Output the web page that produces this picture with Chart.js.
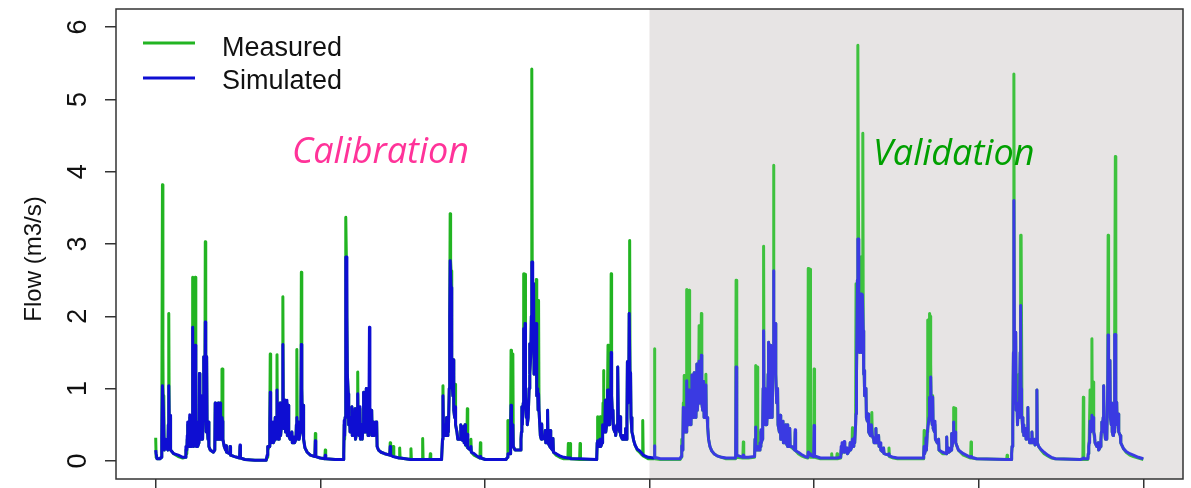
<!DOCTYPE html>
<html>
<head>
<meta charset="utf-8">
<title>Flow calibration / validation</title>
<script src="https://cdn.jsdelivr.net/npm/chart.js@4.4.1/dist/chart.umd.min.js"></script>
<style>
  html, body { margin: 0; padding: 0; background: #fff; }
  canvas { display: block; }
</style>
</head>
<body>
<canvas id="flowChart" width="1191" height="488"></canvas>
<script>
// Day index from start of record (6 years; first 3 = calibration)
const days = [
  0, 1, 3, 10, 12, 13, 14, 15, 16, 17,
  18, 19, 20, 21, 22, 27, 28, 29, 30, 31,
  32, 33, 40, 50, 60, 66, 67, 69, 70, 71,
  72, 74, 75, 76, 78, 79, 81, 82, 83, 84,
  86, 87, 88, 89, 90, 92, 93, 96, 97, 98,
  100, 101, 102, 104, 105, 106, 107, 109, 110, 111,
  112, 113, 114, 116, 117, 118, 121, 128, 131, 132,
  133, 135, 136, 137, 138, 139, 140, 142, 143, 144,
  146, 147, 148, 149, 152, 155, 156, 157, 164, 165,
  166, 175, 186, 187, 188, 198, 220, 245,
  247, 248, 249, 252, 253, 254, 255, 256, 259, 260,
  261, 264, 265, 266, 268, 269, 270, 272, 273, 274,
  276, 277, 279, 280, 281, 282, 283, 284, 286, 287,
  288, 290, 291, 292, 293, 294, 295, 298, 302, 303,
  306, 307, 308, 311, 312, 313, 314, 316, 317, 318,
  321, 322, 323, 324, 325, 326, 327, 328, 331, 336,
  343, 353, 354, 355, 365, 375, 376, 377, 398, 416,
  417, 418, 419, 420, 421, 422, 423, 424, 425, 427,
  428, 430, 431, 434, 435, 436, 439, 440, 441, 442,
  443, 446, 447, 448, 449, 451, 453, 454, 456, 457,
  458, 460, 461, 462, 464, 465, 466, 467, 468, 470,
  471, 473, 474, 475, 477, 479, 480, 482, 483, 484,
  487, 488, 489, 490, 491, 494, 500, 508, 519, 520,
  521, 526, 527, 528, 540, 541, 542, 565, 566, 567,
  591, 592, 593, 608, 609, 610, 633,
  634, 636, 637, 638, 640, 641, 642, 644, 645, 646,
  648, 649, 651, 652, 653, 654, 655, 656, 657, 659,
  660, 661, 663, 664, 665, 668, 670, 675, 676, 677,
  682, 683, 684, 686, 687, 690, 691, 692, 698, 699,
  700, 706, 712, 719, 720, 721, 731, 777,
  780, 781, 782, 786, 787, 788, 789, 791, 792, 793,
  797, 803, 808, 810, 811, 812, 813, 815, 816, 817,
  818, 819, 820, 822, 823, 824, 826, 828, 829, 830,
  832, 833, 834, 835, 836, 837, 838, 839, 841, 843,
  844, 845, 847, 848, 849, 850, 852, 853, 855, 856,
  857, 860, 863, 864, 865, 868, 869, 870, 874, 875,
  876, 880, 881, 882, 888, 896, 905, 914, 915, 916,
  918, 919, 920, 940, 941, 942, 977,
  978, 979, 980, 981, 984, 985, 986, 987, 990, 991,
  992, 993, 994, 996, 997, 998, 1000, 1001, 1002, 1003,
  1004, 1006, 1007, 1009, 1010, 1011, 1013, 1014, 1015, 1018,
  1019, 1020, 1023, 1024, 1025, 1026, 1029, 1030, 1031, 1035,
  1036, 1037, 1041, 1042, 1043, 1045, 1046, 1047, 1049, 1050,
  1051, 1052, 1053, 1054, 1056, 1058, 1060, 1063, 1068, 1073,
  1079, 1080, 1081, 1092,
  1105, 1106, 1107, 1119, 1163, 1165, 1166, 1167, 1168, 1169,
  1170, 1171, 1172, 1173, 1175, 1176, 1177, 1178, 1179, 1181,
  1182, 1183, 1184, 1186, 1187, 1188, 1189, 1190, 1192, 1193,
  1194, 1195, 1197, 1198, 1199, 1200, 1201, 1203, 1204, 1205,
  1206, 1208, 1209, 1210, 1211, 1213, 1214, 1215, 1216, 1218,
  1219, 1220, 1221, 1223, 1224, 1226, 1229, 1233, 1238, 1245,
  1255, 1265, 1286, 1287, 1288, 1289, 1302, 1303, 1304, 1314,
  1328, 1329, 1330, 1331, 1333, 1334, 1335, 1338, 1340, 1341,
  1342, 1343, 1345, 1346, 1347, 1348, 1349, 1351, 1352, 1354,
  1355, 1357, 1358, 1359, 1360, 1362, 1363, 1364, 1366, 1367,
  1369, 1370, 1371, 1373, 1374, 1375, 1377, 1379, 1380, 1383,
  1385, 1386, 1390, 1391, 1392, 1396, 1397, 1398, 1400, 1401,
  1402, 1405, 1406, 1407, 1411, 1417, 1418, 1419, 1425, 1432,
  1440, 1446, 1447, 1448, 1450, 1451, 1452, 1459, 1460, 1461,
  1474, 1498, 1499, 1500, 1510, 1511, 1512,
  1519, 1520, 1521, 1522, 1523, 1526, 1527, 1528, 1533, 1534,
  1539, 1540, 1541, 1544, 1545, 1546, 1548, 1549, 1550, 1552,
  1553, 1554, 1556, 1557, 1558, 1559, 1560, 1561, 1562, 1563,
  1564, 1565, 1566, 1567, 1568, 1569, 1570, 1571, 1572, 1574,
  1575, 1576, 1578, 1580, 1581, 1585, 1587, 1588, 1589, 1592,
  1593, 1596, 1597, 1598, 1602, 1603, 1604, 1607, 1608, 1613,
  1614, 1615, 1625, 1626, 1627, 1636, 1645, 1700,
  1702, 1703, 1704, 1705, 1707, 1708, 1709, 1711, 1712, 1713,
  1715, 1716, 1717, 1718, 1719, 1720, 1722, 1723, 1724, 1727,
  1728, 1729, 1733, 1736, 1737, 1745, 1753, 1754, 1755, 1758,
  1759, 1764, 1765, 1766, 1768, 1769, 1770, 1772, 1773, 1774,
  1780, 1791, 1807, 1808, 1809, 1820, 1887, 1888, 1889,
  1897, 1898, 1899, 1900, 1901, 1902, 1903, 1904, 1905, 1906,
  1907, 1908, 1910, 1911, 1913, 1914, 1915, 1917, 1918, 1919,
  1920, 1921, 1923, 1924, 1925, 1928, 1929, 1930, 1933, 1934,
  1935, 1937, 1938, 1942, 1943, 1944, 1948, 1949, 1950, 1953,
  1954, 1955, 1958, 1963, 1970, 1978, 1986, 1995, 2050,
  2056, 2057, 2058, 2067, 2068, 2069, 2070, 2071, 2072, 2073,
  2075, 2076, 2077, 2079, 2080, 2082, 2083, 2087, 2090, 2091,
  2095, 2096, 2097, 2098, 2099, 2101, 2102, 2103, 2105, 2106,
  2108, 2109, 2111, 2112, 2113, 2115, 2116, 2117, 2119, 2120,
  2121, 2123, 2124, 2125, 2126, 2127, 2128, 2129, 2131, 2132,
  2134, 2135, 2136, 2139, 2140, 2146, 2152, 2160, 2168, 2179,
  2190
];

// Measured flow (m3/s)
const measured = [
  0.32, 0.05, 0.03, 0.03, 0.05, 0.1, 0.3, 3.82, 1.57, 0.3,
  0.9, 0.15, 0.15, 0.3, 0.2, 0.15, 0.5, 2.04, 0.63, 0.3,
  0.6, 0.15, 0.1, 0.06, 0.04, 0.05, 0.15, 0.1, 0.3, 0.5,
  0.2, 0.3, 0.6, 0.2, 0.3, 0.2, 0.3, 2.54, 0.5, 0.2,
  0.3, 0.5, 2.54, 0.3, 0.2, 0.5, 0.2, 0.25, 1.21, 0.3,
  0.3, 0.85, 0.3, 0.3, 0.6, 1.44, 0.6, 0.8, 3.03, 0.7,
  0.4, 1.44, 0.5, 0.3, 0.54, 0.2, 0.15, 0.12, 0.15, 0.8,
  0.3, 0.3, 0.78, 0.3, 0.3, 0.8, 0.3, 0.3, 0.8, 0.3,
  0.4, 1.27, 1.27, 0.3, 0.2, 0.15, 0.21, 0.12, 0.1, 0.2,
  0.08, 0.06, 0.04, 0.2, 0.04, 0.02, 0.01, 0.01,
  0.05, 0.2, 0.15, 0.2, 0.5, 1.48, 0.4, 0.25, 0.3, 0.5,
  0.25, 0.3, 0.6, 0.3, 0.4, 1.47, 0.4, 0.3, 0.5, 0.3,
  0.8, 0.35, 0.5, 0.6, 0.5, 2.27, 0.7, 0.45, 0.5, 0.84,
  0.4, 0.5, 0.8, 0.35, 0.4, 0.77, 0.35, 0.3, 0.4, 0.25,
  0.25, 0.3, 0.25, 0.3, 0.5, 1.54, 0.35, 0.3, 0.5, 0.3,
  0.4, 0.8, 2.61, 1.0, 0.6, 0.4, 0.77, 0.3, 0.18, 0.12,
  0.08, 0.06, 0.38, 0.06, 0.04, 0.03, 0.15, 0.03, 0.02, 0.02,
  0.1, 0.5, 0.3, 0.6, 1.5, 3.37, 2.72, 2.72, 1.2, 0.93,
  0.5, 0.6, 0.4, 0.5, 0.75, 0.35, 0.4, 0.6, 0.35, 0.72,
  0.3, 0.4, 0.7, 1.23, 0.4, 0.35, 0.72, 0.3, 0.35, 0.5,
  0.3, 0.5, 0.95, 0.4, 0.45, 0.7, 0.4, 1.0, 0.4, 0.5,
  0.35, 0.6, 0.6, 0.4, 0.5, 0.7, 0.35, 0.5, 0.54, 0.35,
  0.45, 0.54, 0.35, 0.54, 0.2, 0.15, 0.12, 0.1, 0.08, 0.25,
  0.08, 0.07, 0.2, 0.06, 0.04, 0.18, 0.04, 0.02, 0.17, 0.02,
  0.02, 0.31, 0.02, 0.02, 0.1, 0.02, 0.02,
  0.03, 0.3, 1.04, 0.5, 0.4, 0.5, 0.35, 0.4, 0.6, 0.35,
  0.5, 0.4, 1.0, 2.0, 3.42, 2.77, 2.63, 2.63, 1.2, 0.9,
  1.4, 0.7, 0.6, 1.06, 0.5, 0.4, 0.3, 0.3, 0.5, 0.3,
  0.28, 0.48, 0.25, 0.5, 0.22, 0.2, 0.72, 0.18, 0.15, 0.3,
  0.12, 0.08, 0.06, 0.04, 0.25, 0.04, 0.02, 0.02,
  0.05, 0.56, 0.1, 0.1, 0.5, 1.53, 0.4, 0.6, 1.48, 0.2,
  0.15, 0.15, 0.15, 0.3, 0.4, 0.75, 0.5, 0.8, 2.59, 1.2,
  1.5, 2.58, 0.9, 0.6, 0.8, 0.5, 0.6, 1.0, 1.62, 1.2,
  1.5, 2.0, 5.42, 2.53, 2.53, 1.8, 2.45, 1.2, 1.2, 1.5,
  2.51, 0.9, 1.0, 0.7, 2.22, 0.7, 0.7, 0.35, 0.3, 0.51,
  0.3, 0.32, 0.3, 0.42, 0.25, 0.25, 0.7, 0.25, 0.2, 0.42,
  0.18, 0.15, 0.31, 0.12, 0.08, 0.05, 0.03, 0.03, 0.24, 0.03,
  0.03, 0.24, 0.03, 0.02, 0.24, 0.02, 0.02,
  0.03, 0.25, 0.61, 0.2, 0.2, 0.5, 0.61, 0.2, 0.25, 0.5,
  0.8, 1.25, 0.4, 0.5, 0.84, 0.4, 0.5, 0.7, 1.0, 1.6,
  0.5, 0.96, 0.5, 0.8, 2.59, 0.9, 0.6, 0.7, 0.45, 0.4,
  0.47, 0.35, 0.5, 1.0, 1.3, 0.5, 0.4, 0.61, 0.35, 0.3,
  0.35, 0.3, 0.3, 0.45, 0.3, 0.6, 1.37, 0.8, 1.0, 2.04,
  3.05, 1.0, 1.22, 0.6, 0.4, 0.35, 0.28, 0.22, 0.15, 0.12,
  0.08, 0.56, 0.07, 0.03,
  0.03, 1.55, 0.03, 0.02, 0.02, 0.05, 0.2, 0.3, 0.15, 0.3,
  0.8, 0.4, 1.18, 0.4, 0.5, 0.4, 1.1, 2.37, 0.6, 0.5,
  0.98, 2.36, 0.6, 0.7, 0.5, 0.8, 1.19, 0.6, 0.7, 0.6,
  1.22, 0.7, 0.9, 0.6, 0.9, 1.34, 0.7, 0.9, 1.0, 1.87,
  0.8, 1.0, 1.2, 2.04, 0.8, 0.7, 0.9, 1.1, 0.6, 0.7,
  0.9, 1.2, 0.6, 0.6, 0.47, 0.3, 0.2, 0.14, 0.1, 0.07,
  0.05, 0.03, 0.03, 2.5, 2.5, 0.05, 0.04, 0.26, 0.04, 0.04,
  0.05, 0.3, 1.32, 0.2, 0.15, 1.3, 0.15, 0.15, 0.25, 0.2,
  0.4, 0.25, 0.3, 0.5, 1.0, 2.97, 0.8, 1.0, 0.5, 0.6,
  0.5, 0.8, 1.2, 1.64, 0.6, 1.0, 1.6, 0.7, 1.5, 0.6,
  1.5, 4.09, 1.5, 1.2, 1.9, 1.2, 0.8, 1.0, 0.5, 0.4,
  0.63, 0.3, 0.3, 0.55, 0.25, 0.25, 0.5, 0.25, 0.22, 0.5,
  0.2, 0.2, 0.45, 0.2, 0.18, 0.15, 0.4, 0.14, 0.1, 0.07,
  0.05, 0.04, 2.66, 0.1, 0.1, 2.65, 0.05, 0.05, 1.27, 0.05,
  0.03, 0.03, 0.1, 0.03, 0.03, 0.1, 0.03,
  0.04, 0.15, 0.1, 0.2, 0.12, 0.15, 0.25, 0.12, 0.15, 0.1,
  0.15, 0.25, 0.15, 0.2, 0.46, 0.2, 0.2, 0.3, 0.25, 0.5,
  2.45, 1.2, 2.5, 5.75, 3.74, 3.74, 2.0, 1.5, 2.0, 2.82,
  2.82, 1.5, 1.8, 2.3, 4.53, 1.8, 1.2, 1.25, 0.9, 0.9,
  1.0, 0.6, 0.55, 0.65, 0.4, 0.35, 0.5, 0.67, 0.35, 0.3,
  0.25, 0.25, 0.45, 0.25, 0.25, 0.35, 0.2, 0.2, 0.15, 0.12,
  0.18, 0.1, 0.08, 0.18, 0.06, 0.04, 0.03, 0.03,
  0.03, 0.1, 0.42, 0.1, 0.15, 0.3, 0.15, 0.4, 1.95, 0.5,
  1.2, 2.04, 2.0, 1.6, 1.34, 0.6, 0.5, 0.9, 0.45, 0.4,
  0.5, 0.3, 0.25, 0.3, 0.15, 0.1, 0.1, 0.33, 0.12, 0.17,
  0.12, 0.15, 0.38, 0.2, 0.3, 0.74, 0.3, 0.3, 0.73, 0.25,
  0.15, 0.08, 0.04, 0.26, 0.04, 0.03, 0.02, 0.08, 0.02,
  0.02, 0.1, 0.2, 0.3, 0.5, 1.5, 5.35, 1.78, 0.8, 1.0,
  1.78, 0.7, 0.8, 0.5, 0.8, 1.2, 0.6, 1.5, 3.12, 3.12,
  3.12, 0.6, 0.4, 0.5, 0.35, 0.35, 0.45, 0.3, 0.4, 0.74,
  0.3, 0.3, 0.25, 0.25, 0.4, 0.25, 0.25, 0.3, 0.22, 0.25,
  0.98, 0.25, 0.2, 0.15, 0.1, 0.07, 0.04, 0.03, 0.02,
  0.02, 0.88, 0.02, 0.02, 0.1, 0.2, 0.3, 0.3, 0.98, 0.4,
  0.6, 1.69, 0.5, 1.09, 0.4, 0.3, 0.25, 0.2, 0.25, 0.15,
  0.2, 0.3, 0.4, 0.54, 0.4, 0.6, 1.04, 0.5, 0.5, 0.3,
  0.45, 0.3, 1.0, 3.12, 1.0, 0.9, 1.39, 0.6, 0.5, 0.8,
  0.4, 0.35, 0.45, 0.4, 0.6, 1.75, 4.21, 0.8, 0.81, 0.5,
  0.5, 0.65, 0.4, 0.35, 0.25, 0.17, 0.12, 0.08, 0.06, 0.04,
  0.02
];

// Simulated flow (m3/s)
const simulated = [
  0.15, 0.1, 0.03, 0.03, 0.05, 0.1, 0.3, 1.04, 1.04, 0.74,
  0.74, 0.15, 0.15, 0.3, 0.2, 0.15, 0.5, 1.04, 0.63, 0.3,
  0.63, 0.15, 0.1, 0.08, 0.05, 0.05, 0.2, 0.15, 0.35, 0.54,
  0.2, 0.3, 0.64, 0.2, 0.3, 0.2, 0.3, 1.85, 0.5, 0.2,
  0.3, 0.5, 1.6, 0.3, 0.2, 0.54, 0.2, 0.25, 1.21, 0.3,
  0.3, 0.9, 0.3, 0.3, 0.6, 1.44, 0.6, 0.8, 1.92, 0.7,
  0.4, 1.44, 0.5, 0.3, 0.54, 0.2, 0.15, 0.12, 0.15, 0.8,
  0.3, 0.3, 0.78, 0.3, 0.3, 0.8, 0.3, 0.3, 0.8, 0.3,
  0.4, 0.6, 0.55, 0.3, 0.2, 0.15, 0.21, 0.12, 0.1, 0.2,
  0.08, 0.06, 0.04, 0.22, 0.04, 0.02, 0.01, 0.01,
  0.08, 0.2, 0.2, 0.2, 0.5, 0.95, 0.4, 0.25, 0.3, 0.54,
  0.25, 0.3, 0.6, 0.3, 0.4, 0.98, 0.4, 0.3, 0.5, 0.3,
  0.8, 0.35, 0.5, 0.6, 0.5, 1.61, 0.7, 0.45, 0.5, 0.84,
  0.4, 0.5, 0.84, 0.35, 0.4, 0.77, 0.35, 0.3, 0.4, 0.25,
  0.25, 0.33, 0.25, 0.3, 0.5, 0.6, 0.35, 0.3, 0.54, 0.3,
  0.4, 0.8, 1.61, 1.0, 0.6, 0.4, 0.77, 0.3, 0.18, 0.12,
  0.08, 0.06, 0.28, 0.06, 0.04, 0.03, 0.08, 0.03, 0.02, 0.02,
  0.1, 0.56, 0.35, 0.6, 1.5, 2.82, 2.82, 2.0, 1.2, 0.93,
  0.5, 0.6, 0.4, 0.5, 0.75, 0.35, 0.4, 0.6, 0.35, 0.72,
  0.3, 0.4, 0.7, 0.93, 0.4, 0.35, 0.75, 0.3, 0.35, 0.5,
  0.3, 0.5, 0.95, 0.4, 0.45, 0.7, 0.4, 1.0, 0.4, 0.5,
  0.35, 0.8, 1.85, 0.4, 0.5, 0.7, 0.35, 0.5, 0.54, 0.35,
  0.45, 0.54, 0.35, 0.54, 0.2, 0.15, 0.12, 0.1, 0.08, 0.2,
  0.08, 0.06, 0.06, 0.06, 0.04, 0.04, 0.04, 0.02, 0.02, 0.02,
  0.02, 0.02, 0.02, 0.02, 0.02, 0.02, 0.02,
  0.03, 0.3, 0.9, 0.5, 0.4, 0.5, 0.35, 0.4, 0.6, 0.35,
  0.5, 0.4, 1.0, 2.0, 2.77, 2.77, 2.4, 1.99, 1.2, 0.9,
  1.4, 0.7, 0.6, 0.75, 0.5, 0.4, 0.3, 0.3, 0.5, 0.3,
  0.28, 0.48, 0.25, 0.5, 0.22, 0.22, 0.37, 0.18, 0.15, 0.2,
  0.12, 0.1, 0.07, 0.04, 0.06, 0.04, 0.02, 0.02,
  0.05, 0.1, 0.1, 0.1, 0.5, 0.77, 0.4, 0.3, 0.5, 0.2,
  0.15, 0.15, 0.15, 0.3, 0.4, 0.75, 0.5, 0.8, 1.83, 1.2,
  1.5, 1.9, 0.9, 0.6, 0.8, 0.5, 0.6, 1.0, 1.62, 1.2,
  1.5, 2.0, 2.75, 2.75, 2.45, 1.8, 2.45, 1.2, 1.2, 1.5,
  1.9, 0.9, 1.0, 0.7, 0.93, 0.7, 0.7, 0.35, 0.3, 0.51,
  0.3, 0.32, 0.3, 0.42, 0.25, 0.25, 0.7, 0.25, 0.2, 0.42,
  0.18, 0.15, 0.31, 0.12, 0.1, 0.07, 0.05, 0.04, 0.04, 0.04,
  0.04, 0.04, 0.03, 0.03, 0.03, 0.03, 0.02,
  0.05, 0.25, 0.28, 0.2, 0.2, 0.3, 0.3, 0.2, 0.25, 0.5,
  0.47, 0.47, 0.4, 0.5, 0.84, 0.4, 0.5, 0.7, 0.98, 0.98,
  0.5, 0.96, 0.5, 0.8, 1.5, 0.9, 0.6, 0.7, 0.45, 0.4,
  0.47, 0.35, 0.5, 1.0, 1.3, 0.5, 0.4, 0.61, 0.35, 0.3,
  0.35, 0.3, 0.3, 0.45, 0.3, 0.6, 1.37, 0.8, 1.0, 2.04,
  2.04, 1.0, 1.22, 0.6, 0.4, 0.35, 0.28, 0.22, 0.16, 0.14,
  0.1, 0.1, 0.08, 0.05,
  0.04, 0.21, 0.05, 0.03, 0.03, 0.06, 0.15, 0.21, 0.15, 0.3,
  0.74, 0.4, 0.6, 0.4, 0.5, 0.4, 1.11, 1.11, 0.6, 0.5,
  0.98, 0.98, 0.6, 0.7, 0.5, 0.8, 1.19, 0.6, 0.7, 0.6,
  1.22, 0.7, 0.9, 0.6, 0.9, 1.34, 0.7, 0.9, 1.0, 1.38,
  0.8, 1.0, 1.2, 1.46, 0.8, 0.7, 0.9, 1.1, 0.6, 0.7,
  0.9, 1.05, 0.6, 0.6, 0.47, 0.3, 0.2, 0.14, 0.1, 0.07,
  0.05, 0.04, 0.04, 1.3, 0.1, 0.08, 0.05, 0.08, 0.05, 0.05,
  0.06, 0.3, 0.47, 0.2, 0.15, 0.2, 0.15, 0.15, 0.25, 0.2,
  0.43, 0.25, 0.3, 0.5, 1.0, 1.8, 0.8, 1.0, 0.5, 0.6,
  0.5, 0.8, 1.2, 1.64, 0.6, 1.0, 1.6, 0.7, 0.98, 0.6,
  1.5, 2.63, 1.5, 1.2, 1.9, 1.2, 0.8, 1.0, 0.5, 0.4,
  0.63, 0.3, 0.3, 0.55, 0.25, 0.25, 0.5, 0.25, 0.22, 0.5,
  0.2, 0.2, 0.45, 0.2, 0.2, 0.15, 0.43, 0.14, 0.12, 0.09,
  0.06, 0.05, 0.12, 0.1, 0.1, 0.1, 0.08, 0.06, 0.49, 0.07,
  0.04, 0.04, 0.04, 0.04, 0.04, 0.04, 0.04,
  0.05, 0.2, 0.12, 0.25, 0.12, 0.15, 0.27, 0.12, 0.18, 0.1,
  0.15, 0.25, 0.15, 0.2, 0.3, 0.2, 0.2, 0.32, 0.25, 0.5,
  0.65, 1.2, 2.5, 3.07, 3.07, 2.3, 1.9, 1.5, 2.0, 2.31,
  2.31, 1.5, 1.8, 2.3, 2.3, 1.8, 1.2, 1.25, 0.9, 0.9,
  1.0, 0.6, 0.55, 0.65, 0.4, 0.35, 0.5, 0.5, 0.35, 0.3,
  0.25, 0.25, 0.45, 0.25, 0.25, 0.35, 0.2, 0.25, 0.15, 0.12,
  0.18, 0.1, 0.08, 0.1, 0.07, 0.05, 0.04, 0.04,
  0.04, 0.1, 0.2, 0.1, 0.15, 0.32, 0.15, 0.4, 0.4, 0.5,
  0.6, 0.88, 0.7, 0.7, 1.16, 0.6, 0.5, 0.88, 0.45, 0.4,
  0.55, 0.3, 0.25, 0.3, 0.15, 0.12, 0.1, 0.33, 0.12, 0.18,
  0.12, 0.15, 0.38, 0.2, 0.3, 0.54, 0.3, 0.3, 0.4, 0.25,
  0.15, 0.1, 0.05, 0.06, 0.05, 0.03, 0.02, 0.02, 0.02,
  0.02, 0.1, 0.2, 0.33, 0.5, 1.5, 3.6, 1.78, 0.8, 1.0,
  1.78, 0.7, 0.8, 0.5, 0.8, 0.8, 0.6, 1.5, 2.15, 1.0,
  0.6, 0.6, 0.4, 0.5, 0.35, 0.35, 0.45, 0.3, 0.4, 0.74,
  0.3, 0.3, 0.25, 0.25, 0.4, 0.25, 0.25, 0.3, 0.22, 0.25,
  0.98, 0.25, 0.2, 0.16, 0.12, 0.08, 0.05, 0.03, 0.02,
  0.03, 0.04, 0.03, 0.03, 0.1, 0.2, 0.25, 0.3, 0.55, 0.4,
  0.5, 0.63, 0.5, 0.6, 0.4, 0.35, 0.25, 0.2, 0.25, 0.15,
  0.2, 0.3, 0.4, 0.54, 0.4, 0.6, 1.04, 0.5, 0.5, 0.3,
  0.45, 0.3, 1.0, 1.74, 1.0, 0.9, 1.39, 0.6, 0.5, 0.8,
  0.4, 0.35, 0.45, 0.4, 0.6, 1.75, 1.75, 0.8, 0.81, 0.5,
  0.5, 0.65, 0.4, 0.35, 0.25, 0.17, 0.13, 0.1, 0.08, 0.05,
  0.03
];

const yearTicks = [0, 365, 730, 1095, 1460, 1825, 2190];
const flowTicks = [0, 1, 2, 3, 4, 5, 6];
const validationStart = 1095;

if (days.length !== measured.length || days.length !== simulated.length) {
    console.error('length mismatch', days.length, measured.length, simulated.length);
}

const COLORS = {
    measured: '#22b422',
    measuredVal: '#3ec23e',
    simulated: '#0e0ed2',
    simulatedVal: '#3a3ae2',
    axis: '#333333',
    shade: '#e7e4e4',
    calibration: '#ff3399',
    validation: '#00a000'
};
const AXIS_FONT = '27px "Liberation Sans", Arial, sans-serif';
const TITLE_FONT = '24px "Liberation Sans", Arial, sans-serif';
const LABEL_FONT = 'italic 36px "Open Sans", "Noto Sans", sans-serif';
const LINE_WIDTH = 3;

const toPoints = (vals) => days.map((d, i) => ({ x: d, y: vals[i] }));
const periodColor = (calib, valid) => (ctx) => ctx.p0.parsed.x >= validationStart ? valid : calib;

// Grey background for the validation period
const shadePlugin = {
    id: 'validationShade',
    beforeDatasetsDraw(chart) {
        const { ctx, chartArea, scales } = chart;
        const x0 = scales.x.getPixelForValue(validationStart);
        ctx.save();
        ctx.fillStyle = COLORS.shade;
        ctx.fillRect(x0, chartArea.top, chartArea.right - x0, chartArea.bottom - chartArea.top);
        ctx.restore();
    }
};

// Box, rotated y labels, axis title, legend and period labels
const decorPlugin = {
    id: 'decor',
    afterDraw(chart) {
        const { ctx, chartArea, scales } = chart;
        ctx.save();

        ctx.strokeStyle = COLORS.axis;
        ctx.lineWidth = 1.5;
        ctx.strokeRect(chartArea.left, chartArea.top, chartArea.right - chartArea.left, chartArea.bottom - chartArea.top);

        ctx.fillStyle = '#111';
        ctx.font = AXIS_FONT;
        ctx.textAlign = 'center';
        ctx.textBaseline = 'middle';
        flowTicks.forEach(v => {
            const y = scales.y.getPixelForValue(v);
            ctx.save();
            ctx.translate(79, y);
            ctx.rotate(-Math.PI / 2);
            ctx.fillText(String(v), 0, 0);
            ctx.restore();
        });

        ctx.font = TITLE_FONT;
        ctx.save();
        ctx.translate(34, 259);
        ctx.rotate(-Math.PI / 2);
        ctx.fillText('Flow (m3/s)', 0, 0);
        ctx.restore();

        // legend
        const items = [
            { label: 'Measured', color: COLORS.measured, y: 43, base: 56 },
            { label: 'Simulated', color: COLORS.simulated, y: 78, base: 89 }
        ];
        ctx.font = AXIS_FONT;
        ctx.textAlign = 'left';
        ctx.textBaseline = 'alphabetic';
        items.forEach(it => {
            ctx.strokeStyle = it.color;
            ctx.lineWidth = LINE_WIDTH;
            ctx.beginPath();
            ctx.moveTo(143, it.y);
            ctx.lineTo(195, it.y);
            ctx.stroke();
            ctx.fillStyle = '#111';
            ctx.fillText(it.label, 222, it.base);
        });

        ctx.font = LABEL_FONT;
        ctx.fillStyle = COLORS.calibration;
        ctx.fillText('Calibration', 292, 163);
        ctx.fillStyle = COLORS.validation;
        ctx.fillText('Validation', 873, 165);

        ctx.restore();
    }
};

new Chart(document.getElementById('flowChart'), {
    type: 'line',
    data: {
        datasets: [
            {
                label: 'Measured',
                data: toPoints(measured),
                borderColor: COLORS.measured,
                segment: { borderColor: periodColor(COLORS.measured, COLORS.measuredVal) },
                borderWidth: LINE_WIDTH,
                borderJoinStyle: 'round',
                pointRadius: 0,
                tension: 0,
                order: 2
            },
            {
                label: 'Simulated',
                data: toPoints(simulated),
                borderColor: COLORS.simulated,
                segment: { borderColor: periodColor(COLORS.simulated, COLORS.simulatedVal) },
                borderWidth: LINE_WIDTH,
                borderJoinStyle: 'round',
                pointRadius: 0,
                tension: 0,
                order: 1
            }
        ]
    },
    options: {
        responsive: false,
        devicePixelRatio: 1,
        animation: false,
        layout: { padding: { top: 9, right: 8, left: 0, bottom: 0 } },
        plugins: {
            legend: { display: false },
            tooltip: { enabled: false }
        },
        scales: {
            x: {
                type: 'linear',
                min: -88,
                max: 2278,
                afterBuildTicks: s => { s.ticks = yearTicks.map(v => ({ value: v })); },
                afterFit: s => { s.height = 9; },
                ticks: { display: false },
                border: { display: false },
                grid: { drawOnChartArea: false, drawTicks: true, tickLength: 9, color: COLORS.axis, lineWidth: 1.5 }
            },
            y: {
                min: -0.25,
                max: 6.25,
                afterBuildTicks: s => { s.ticks = flowTicks.map(v => ({ value: v })); },
                afterFit: s => { s.width = 116; },
                ticks: { display: false },
                border: { display: false },
                grid: { drawOnChartArea: false, drawTicks: true, tickLength: 11, color: COLORS.axis, lineWidth: 1.5 }
            }
        }
    },
    plugins: [shadePlugin, decorPlugin]
});
</script>
</body>
</html>
